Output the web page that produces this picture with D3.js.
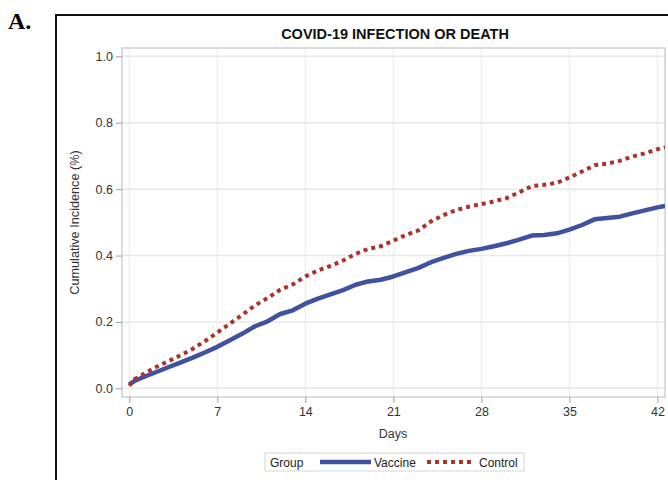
<!DOCTYPE html>
<html>
<head>
<meta charset="utf-8">
<script src="https://cdn.jsdelivr.net/npm/d3@7"></script>
<style>
  body { margin: 0; background: #fff; }
  svg { display: block; font-family: Arial, "Liberation Sans", sans-serif; }
</style>
</head>
<body>
<div id="chart"></div>
<script>
// Cumulative incidence by day
const days = [0, 0.4, 1, 2, 3, 4, 5, 6, 7, 8, 9, 10, 11, 12, 13, 14, 15, 16, 17, 18, 19, 20,
  21, 22, 23, 24, 25, 26, 27, 28, 29, 30, 31, 32, 33, 34, 35, 36, 37, 38, 39, 40, 41, 42, 42.6];
const vaccine = [0.012, 0.022, 0.032, 0.047, 0.062, 0.077, 0.092, 0.108, 0.125, 0.145, 0.165, 0.187,
  0.202, 0.224, 0.235, 0.255, 0.270, 0.283, 0.296, 0.312, 0.322, 0.327, 0.337, 0.350, 0.363,
  0.380, 0.393, 0.405, 0.414, 0.420, 0.428, 0.437, 0.448, 0.460, 0.462, 0.467, 0.478, 0.492,
  0.509, 0.513, 0.517, 0.527, 0.536, 0.545, 0.549];
const control = [0.008, 0.027, 0.040, 0.062, 0.080, 0.098, 0.118, 0.142, 0.168, 0.195, 0.222, 0.250,
  0.272, 0.297, 0.313, 0.337, 0.355, 0.369, 0.385, 0.405, 0.420, 0.428, 0.445, 0.462, 0.476,
  0.503, 0.522, 0.537, 0.547, 0.555, 0.563, 0.573, 0.590, 0.609, 0.613, 0.619, 0.635, 0.653,
  0.672, 0.677, 0.685, 0.698, 0.708, 0.720, 0.726];
const xTicks = [0, 7, 14, 21, 28, 35, 42];
const yTicks = [0, 0.2, 0.4, 0.6, 0.8, 1.0];
const groups = ["Vaccine", "Control"];

const width = 668, height = 480;
const plot = {left: 122, top: 48, right: 665, bottom: 397};

const svg = d3.select('#chart').append('svg')
  .attr('width', width).attr('height', height);

// panel letter and outer frame
svg.append('text')
  .attr('x', 8).attr('y', 29)
  .style('font-family', '"Liberation Serif", "DejaVu Serif", serif')
  .style('font-weight', 'bold').style('font-size', '24px')
  .text('A.');
svg.append('path')
  .attr('d', `M${width + 5},15 H56 V${height + 5}`)
  .attr('fill', 'none').attr('stroke', '#111').attr('stroke-width', 2);

const x = d3.scaleLinear().domain([-0.58, 42.6]).range([plot.left, plot.right]);
const y = d3.scaleLinear().domain([-0.026, 1.025]).range([plot.bottom, plot.top]);

// grid
svg.append('g').selectAll('line').data(xTicks).join('line')
  .attr('x1', d => x(d)).attr('x2', d => x(d))
  .attr('y1', plot.top).attr('y2', plot.bottom)
  .attr('stroke', '#e8e8e8').attr('stroke-width', 1);
svg.append('g').selectAll('line').data(yTicks).join('line')
  .attr('x1', plot.left).attr('x2', plot.right)
  .attr('y1', d => y(d)).attr('y2', d => y(d))
  .attr('stroke', '#e8e8e8').attr('stroke-width', 1.5);

// frame
svg.append('rect')
  .attr('x', plot.left).attr('y', plot.top)
  .attr('width', plot.right - plot.left).attr('height', plot.bottom - plot.top)
  .attr('fill', 'none').attr('stroke', '#b4b8c0').attr('stroke-width', 1);

// axes
const xAxis = svg.append('g')
  .attr('transform', `translate(0,${plot.bottom})`)
  .call(d3.axisBottom(x).tickValues(xTicks).tickSize(6).tickPadding(4));
const yAxis = svg.append('g')
  .attr('transform', `translate(${plot.left},0)`)
  .call(d3.axisLeft(y).tickValues(yTicks).tickFormat(d3.format('.1f')).tickSize(6).tickPadding(3));
[xAxis, yAxis].forEach(a => {
  a.select('.domain').remove();
  a.selectAll('line').attr('stroke', '#9a9ea6');
  a.selectAll('text').attr('fill', '#333').style('font-size', '12.5px')
    .style('font-family', 'Arial, "Liberation Sans", sans-serif');
});

// title & axis labels
svg.append('text')
  .attr('x', 395).attr('y', 39).attr('text-anchor', 'middle')
  .style('font-weight', 'bold').style('font-size', '14.5px').attr('fill', '#111')
  .text('COVID-19 INFECTION OR DEATH');
svg.append('text')
  .attr('x', 393).attr('y', 438).attr('text-anchor', 'middle')
  .style('font-size', '12.5px').attr('fill', '#333')
  .text('Days');
svg.append('text')
  .attr('transform', `translate(79,${(plot.top + plot.bottom) / 2}) rotate(-90)`)
  .attr('text-anchor', 'middle')
  .style('font-size', '12.7px').attr('fill', '#333')
  .text('Cumulative Incidence (%)');

// curves
svg.append('defs').append('clipPath').attr('id', 'clip')
  .append('rect').attr('x', plot.left).attr('y', plot.top)
  .attr('width', plot.right - plot.left).attr('height', plot.bottom - plot.top);

const line = d3.line().x((d, i) => x(days[i])).y(d => y(d));
const styles = {
  Vaccine: {color: '#3f519f', dash: null},
  Control: {color: '#a8342d', dash: '4,4'}
};
const curves = svg.append('g').attr('clip-path', 'url(#clip)');
curves.append('path').datum(vaccine)
  .attr('d', line).attr('fill', 'none')
  .attr('stroke', styles.Vaccine.color).attr('stroke-width', 4.5)
  .attr('stroke-linejoin', 'round');
curves.append('path').datum(control)
  .attr('d', line).attr('fill', 'none')
  .attr('stroke', styles.Control.color).attr('stroke-width', 4)
  .attr('stroke-dasharray', styles.Control.dash);

// legend
const lg = svg.append('g');
lg.append('rect').attr('x', 265).attr('y', 453).attr('width', 259).attr('height', 18)
  .attr('fill', '#fff').attr('stroke', '#d4d6da');
lg.append('text').attr('x', 270).attr('y', 466.5)
  .style('font-size', '12px').attr('fill', '#222').text('Group');
const items = [
  {name: groups[0], x1: 320, x2: 371, tx: 374},
  {name: groups[1], x1: 427, x2: 471, tx: 479}
];
items.forEach(it => {
  const s = styles[it.name];
  lg.append('line').attr('x1', it.x1).attr('x2', it.x2).attr('y1', 462).attr('y2', 462)
    .attr('stroke', s.color).attr('stroke-width', s.dash ? 4 : 4.5)
    .attr('stroke-dasharray', s.dash);
  lg.append('text').attr('x', it.tx).attr('y', 466.5)
    .style('font-size', '12px').attr('fill', '#222').text(it.name);
});
</script>
</body>
</html>
